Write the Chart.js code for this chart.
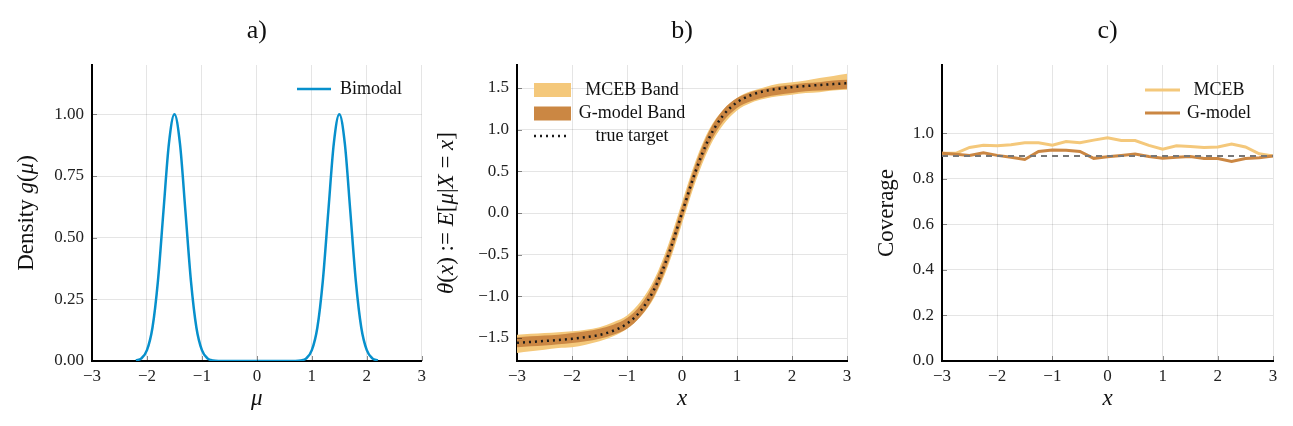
<!DOCTYPE html>
<html>
<head>
<meta charset="utf-8">
<script src="https://cdn.jsdelivr.net/npm/chart.js@4.4.1/dist/chart.umd.min.js"></script>
<style>
  html, body { margin: 0; padding: 0; background: #fff; }
  .panel { position: absolute; top: 0; width: 431px; height: 426px; }
  #pa { left: 0; }
  #pb { left: 431px; }
  #pc { left: 862px; }
</style>
</head>
<body>
<div class="panel" id="pa"><canvas id="ca"></canvas></div>
<div class="panel" id="pb"><canvas id="cb"></canvas></div>
<div class="panel" id="pc"><canvas id="cc"></canvas></div>
<script>
// ---- panel a: bimodal prior density ----
const mu = [-2.2, -2.1, -2.0, -1.9, -1.8, -1.7, -1.6, -1.5, -1.4, -1.3, -1.2, -1.1, -1.0, -0.9, -0.8,
  -0.7, -0.6, -0.5, -0.4, -0.3, -0.2, -0.1, 0, 0.1, 0.2, 0.3, 0.4, 0.5, 0.6, 0.7,
  0.8, 0.9, 1.0, 1.1, 1.2, 1.3, 1.4, 1.5, 1.6, 1.7, 1.8, 1.9, 2.0, 2.1, 2.2];
const density = [0.002, 0.011, 0.044, 0.135, 0.325, 0.607, 0.882, 1.0, 0.882, 0.607, 0.325, 0.135, 0.044, 0.011, 0.002,
  0, 0, 0, 0, 0, 0, 0, 0, 0, 0, 0, 0, 0, 0, 0,
  0.002, 0.011, 0.044, 0.135, 0.325, 0.607, 0.882, 1.0, 0.882, 0.607, 0.325, 0.135, 0.044, 0.011, 0.002];

// ---- panel b: posterior mean and bands ----
const xGrid = [-3, -2.75, -2.5, -2.25, -2, -1.75, -1.5, -1.25, -1, -0.75, -0.5, -0.25, 0,
  0.25, 0.5, 0.75, 1, 1.25, 1.5, 1.75, 2, 2.25, 2.5, 2.75, 3];
const trueTarget = [-1.557, -1.547, -1.536, -1.524, -1.51, -1.49, -1.463, -1.413, -1.328, -1.173, -0.908, -0.507, 0,
  0.507, 0.908, 1.173, 1.328, 1.413, 1.463, 1.49, 1.51, 1.524, 1.536, 1.547, 1.557];
const mcebHigh = [-1.46, -1.45, -1.44, -1.43, -1.42, -1.40, -1.37, -1.31, -1.23, -1.06, -0.79, -0.38, 0.13,
  0.63, 1.01, 1.24, 1.38, 1.46, 1.51, 1.55, 1.57, 1.59, 1.62, 1.645, 1.67];
const mcebLow = [-1.68, -1.66, -1.64, -1.62, -1.61, -1.58, -1.54, -1.48, -1.39, -1.24, -1.01, -0.63, -0.13,
  0.38, 0.79, 1.06, 1.23, 1.32, 1.37, 1.40, 1.42, 1.44, 1.45, 1.47, 1.48];
const gHigh = [-1.49, -1.48, -1.47, -1.46, -1.44, -1.42, -1.39, -1.34, -1.26, -1.10, -0.83, -0.43, 0.08,
  0.59, 0.99, 1.24, 1.38, 1.45, 1.49, 1.52, 1.54, 1.56, 1.57, 1.59, 1.60];
const gLow = [-1.61, -1.60, -1.59, -1.575, -1.56, -1.54, -1.51, -1.46, -1.39, -1.24, -0.99, -0.59, -0.08,
  0.43, 0.83, 1.10, 1.26, 1.34, 1.39, 1.42, 1.44, 1.46, 1.47, 1.48, 1.49];

// ---- panel c: coverage ----
const coverageMceb = [0.912, 0.912, 0.938, 0.947, 0.945, 0.95, 0.958, 0.958, 0.948, 0.964, 0.959, 0.97, 0.98,
  0.968, 0.968, 0.947, 0.93, 0.945, 0.942, 0.938, 0.94, 0.953, 0.94, 0.91, 0.9];
const coverageG = [0.912, 0.908, 0.903, 0.915, 0.903, 0.895, 0.885, 0.92, 0.927, 0.926, 0.92, 0.89, 0.897,
  0.903, 0.909, 0.898, 0.89, 0.895, 0.898, 0.889, 0.889, 0.876, 0.889, 0.893, 0.9];
const nominalX = [-3, 3];
const nominal = [0.9, 0.9];

// ---- tick labels ----
const xTicks = [-3, -2, -1, 0, 1, 2, 3];
const yTicksA = [0, 0.25, 0.5, 0.75, 1.0];
const yTicksB = [-1.5, -1.0, -0.5, 0, 0.5, 1.0, 1.5];
const yTicksC = [0, 0.2, 0.4, 0.6, 0.8, 1.0];

const FONT = '"Liberation Serif", "DejaVu Serif", serif';
const BLUE = '#0790cc';
const LIGHT = '#f4c87b';
const DARK = '#cb8743';

const pts = (xs, ys) => xs.map((x, i) => ({ x: x, y: ys[i] }));
const fmt = (v, d) => v.toFixed(d).replace('-', '\u2212');

function drawRuns(ctx, runs, x, y, size, rot) {
  ctx.save();
  ctx.translate(x, y);
  ctx.rotate(rot);
  ctx.textBaseline = 'middle';
  ctx.textAlign = 'left';
  ctx.fillStyle = '#111';
  let total = 0;
  runs.forEach(r => {
    ctx.font = (r[1] ? 'italic ' : '') + size + 'px ' + FONT;
    total += ctx.measureText(r[0]).width;
  });
  let cx = -total / 2;
  runs.forEach(r => {
    ctx.font = (r[1] ? 'italic ' : '') + size + 'px ' + FONT;
    ctx.fillText(r[0], cx, 0);
    cx += ctx.measureText(r[0]).width;
  });
  ctx.restore();
}

// titles, axis labels, inner tick marks and legend
const deco = {
  id: 'deco',
  afterDraw(chart, args, o) {
    const { ctx, chartArea: a, scales } = chart;
    ctx.save();
    ctx.strokeStyle = 'rgba(0,0,0,0.45)';
    ctx.lineWidth = 1;
    scales.x.ticks.forEach(t => {
      const p = Math.round(scales.x.getPixelForValue(t.value)) + 0.5;
      ctx.beginPath(); ctx.moveTo(p, a.bottom); ctx.lineTo(p, a.bottom - 5); ctx.stroke();
    });
    scales.y.ticks.forEach(t => {
      const p = Math.round(scales.y.getPixelForValue(t.value)) + 0.5;
      ctx.beginPath(); ctx.moveTo(a.left, p); ctx.lineTo(a.left + 5, p); ctx.stroke();
    });
    ctx.restore();

    drawRuns(ctx, [[o.title, false]], (a.left + a.right) / 2, 31, 26, 0);
    drawRuns(ctx, o.xlabel, (a.left + a.right) / 2, 399, 23, 0);
    drawRuns(ctx, o.ylabel, o.ylabelX, (a.top + a.bottom) / 2, 23, -Math.PI / 2);

    o.legend.forEach(it => {
      ctx.save();
      if (it.kind === 'patch') {
        ctx.fillStyle = it.color;
        ctx.fillRect(it.x0, it.y - 7, it.x1 - it.x0, 14);
      } else {
        ctx.strokeStyle = it.color;
        ctx.lineWidth = it.width;
        if (it.kind === 'dots') ctx.setLineDash([2, 4]);
        ctx.beginPath(); ctx.moveTo(it.x0, it.y); ctx.lineTo(it.x1, it.y); ctx.stroke();
      }
      ctx.restore();
      drawRuns(ctx, [[it.text, false]], it.tx, it.y, 18, 0);
    });
  }
};

function scales(ymin, ymax, yTicks, yDigits, yWidth) {
  const tickFont = { family: FONT, size: 17 };
  const grid = { color: 'rgba(0,0,0,0.1)', lineWidth: 1, drawTicks: false };
  const border = { color: '#000', width: 2 };
  return {
    x: {
      type: 'linear', min: -3, max: 3,
      afterBuildTicks: s => { s.ticks = xTicks.map(v => ({ value: v })); },
      afterFit: s => { s.height = 65; },
      grid: grid, border: border,
      ticks: { font: tickFont, color: '#222', padding: 5, maxRotation: 0, autoSkip: false,
        callback: v => fmt(v, 0) }
    },
    y: {
      type: 'linear', min: ymin, max: ymax,
      afterBuildTicks: s => { s.ticks = yTicks.map(v => ({ value: v })); },
      afterFit: s => { s.width = yWidth; },
      grid: grid, border: border,
      ticks: { font: tickFont, color: '#222', padding: 8, autoSkip: false,
        callback: v => fmt(v, yDigits) }
    }
  };
}

function baseOptions(padRight, sc, decoOpts) {
  return {
    responsive: true,
    maintainAspectRatio: false,
    animation: false,
    layout: { padding: { top: 65, left: 0, right: padRight, bottom: 0 } },
    elements: { point: { radius: 0 } },
    plugins: { legend: { display: false }, tooltip: { enabled: false }, deco: decoOpts },
    scales: sc
  };
}

new Chart(document.getElementById('ca'), {
  type: 'line',
  data: {
    datasets: [{
      label: 'Bimodal', data: pts(mu, density), borderColor: BLUE, borderWidth: 2.5,
      cubicInterpolationMode: 'monotone', fill: false
    }]
  },
  options: baseOptions(9, scales(0, 1.2, yTicksA, 2, 92), {
    title: 'a)',
    xlabel: [['\u03bc', true]],
    ylabel: [['Density ', false], ['g', true], ['(', false], ['\u03bc', true], [')', false]],
    ylabelX: 27,
    legend: [{ kind: 'line', color: BLUE, width: 2.5, x0: 297, x1: 331, y: 89, text: 'Bimodal', tx: 371 }]
  }),
  plugins: [deco]
});

new Chart(document.getElementById('cb'), {
  type: 'line',
  data: {
    datasets: [
      { label: 'true target', data: pts(xGrid, trueTarget), borderColor: '#1a1a1a', borderWidth: 2.5,
        borderDash: [2, 4], cubicInterpolationMode: 'monotone', fill: false },
      { label: 'G-model Band', data: pts(xGrid, gHigh), borderWidth: 0, backgroundColor: DARK,
        cubicInterpolationMode: 'monotone', fill: '+1' },
      { label: 'G-model low', data: pts(xGrid, gLow), borderWidth: 0,
        cubicInterpolationMode: 'monotone', fill: false },
      { label: 'MCEB Band', data: pts(xGrid, mcebHigh), borderWidth: 0, backgroundColor: LIGHT,
        cubicInterpolationMode: 'monotone', fill: '+1' },
      { label: 'MCEB low', data: pts(xGrid, mcebLow), borderWidth: 0,
        cubicInterpolationMode: 'monotone', fill: false }
    ]
  },
  options: baseOptions(15, scales(-1.776, 1.776, yTicksB, 1, 86), {
    title: 'b)',
    xlabel: [['x', true]],
    ylabel: [['\u03b8', true], ['(', false], ['x', true], [')\u2005:=\u2005', false], ['E', true], ['[', false],
      ['\u03bc', true], ['|', false], ['X', true], ['\u2005=\u2005', false], ['x', true], [']', false]],
    ylabelX: 16,
    legend: [
      { kind: 'patch', color: LIGHT, x0: 103, x1: 140, y: 90, text: 'MCEB Band', tx: 201 },
      { kind: 'patch', color: DARK, x0: 103, x1: 140, y: 113.5, text: 'G-model Band', tx: 201 },
      { kind: 'dots', color: '#1a1a1a', width: 2.5, x0: 103, x1: 138, y: 136, text: 'true target', tx: 201 }
    ]
  }),
  plugins: [deco]
});

new Chart(document.getElementById('cc'), {
  type: 'line',
  data: {
    datasets: [
      { label: 'nominal', data: pts(nominalX, nominal), borderColor: '#777', borderWidth: 2,
        borderDash: [6, 5], fill: false },
      { label: 'G-model', data: pts(xGrid, coverageG), borderColor: DARK, borderWidth: 3, fill: false },
      { label: 'MCEB', data: pts(xGrid, coverageMceb), borderColor: LIGHT, borderWidth: 3, fill: false }
    ]
  },
  options: baseOptions(20, scales(0, 1.3, yTicksC, 1, 80), {
    title: 'c)',
    xlabel: [['x', true]],
    ylabel: [['Coverage', false]],
    ylabelX: 25,
    legend: [
      { kind: 'line', color: LIGHT, width: 3, x0: 283, x1: 318, y: 90, text: 'MCEB', tx: 357 },
      { kind: 'line', color: DARK, width: 3, x0: 283, x1: 318, y: 113, text: 'G-model', tx: 357 }
    ]
  }),
  plugins: [deco]
});
</script>
</body>
</html>
